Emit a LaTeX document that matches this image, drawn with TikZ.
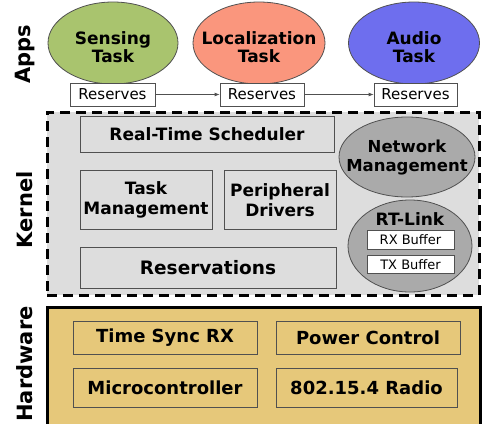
\documentclass[tikz,border=0pt]{standalone}
\usepackage{fontspec}
\setmainfont{DejaVu Sans}
\usetikzlibrary{shapes.geometric,arrows.meta}
\definecolor{sensecol}{RGB}{169,196,110}
\definecolor{loccol}{RGB}{250,150,125}
\definecolor{audiocol}{RGB}{110,110,238}
\definecolor{kernbg}{RGB}{221,221,221}
\definecolor{netcol}{RGB}{170,170,170}
\definecolor{hwcol}{RGB}{230,200,122}
\definecolor{edgegray}{RGB}{80,80,80}
\tikzset{
  apptask/.style={ellipse, draw=edgegray, line width=0.8pt, minimum width=130pt, minimum height=82pt, inner sep=0pt},
  apptext/.style={inner sep=0pt, align=center, font=\fontsize{17}{18.5}\selectfont\bfseries},
  resbox/.style={draw=edgegray, line width=0.8pt, fill=white, minimum width=85pt, minimum height=23pt, inner sep=0pt, font=\fontsize{15}{17}\selectfont},
  kbox/.style={draw=edgegray, line width=0.8pt, fill=kernbg, inner sep=0pt, align=center, font=\fontsize{17}{20}\selectfont\bfseries},
  kell/.style={ellipse, draw=edgegray, line width=0.8pt, fill=netcol, inner sep=0pt},
  kelltext/.style={inner sep=0pt, align=center, font=\fontsize{16.5}{19}\selectfont\bfseries},
  bufbox/.style={draw=edgegray, line width=0.8pt, fill=white, minimum width=87pt, minimum height=18.5pt, inner sep=0pt, font=\fontsize{13}{15}\selectfont},
  hwbox/.style={draw=edgegray, line width=0.8pt, fill=hwcol, inner sep=0pt, font=\fontsize{18}{20}\selectfont\bfseries},
  layerlabel/.style={rotate=90, inner sep=0pt, font=\fontsize{21}{24}\selectfont\bfseries},
  resarrow/.style={-{Latex[length=5pt,width=4pt]}, draw=edgegray, line width=0.8pt}
}
\begin{document}
\begin{tikzpicture}[x=1pt,y=-1pt]
\useasboundingbox (0,0) rectangle (484,423);
% layer labels
\node[layerlabel] (lapps) at (25,54) {Apps};
\node[layerlabel] (lkern) at (25,210) {Kernel};
\node[layerlabel] (lhw) at (25,364) {Hardware};
% apps
\node[apptask, fill=sensecol] (sense) at (113,43) {};
\node[apptext] (senset) at ([yshift=-4pt]sense.center) {Sensing\\Task};
\node[apptask, fill=loccol, minimum width=132pt] (loc) at (259,43) {};
\node[apptext] (loct) at ([yshift=-4pt]loc.center) {Localization\\Task};
\node[apptask, fill=audiocol, minimum width=131pt] (audio) at (414,43) {};
\node[apptext] (audiot) at ([yshift=-4pt]audio.center) {Audio\\Task};
\node[resbox] (r1) at (112.5,94.5) {Reserves};
\node[resbox, minimum width=84pt] (r2) at (262,94.5) {Reserves};
\node[resbox, minimum width=83pt] (r3) at (415.5,94.5) {Reserves};
\draw[resarrow] (r1) -- (r2);
\draw[resarrow] (r2) -- (r3);
% kernel
\node[draw=black, fill=kernbg, line width=3pt, dash pattern=on 10pt off 6pt, minimum width=432pt, minimum height=183pt, inner sep=0pt] (kern) at (263,203.5) {};
\node[kbox, minimum width=254pt, minimum height=36pt] (sched) at (207,134) {Real-Time Scheduler};
\node[kbox, minimum width=132pt, minimum height=59pt] (taskm) at (146,199.5) {Task\\Management};
\node[kbox, minimum width=112pt, minimum height=59pt] (periph) at (280,200) {Peripheral\\Drivers};
\node[kbox, minimum width=256pt, minimum height=41pt, font=\fontsize{18.5}{20}\selectfont\bfseries] (resv) at (208,267.5) {Reservations};
\node[kell, minimum width=136pt, minimum height=80pt] (netm) at (407,157) {};
\node[kelltext] (netmt) at ([yshift=-1pt]netm.center) {Network\\Management};
\node[kell, minimum width=124pt, minimum height=92pt] (rtl) at (410,246) {};
\node[inner sep=0pt, font=\fontsize{17}{20}\selectfont\bfseries] (rtlt) at (410,219) {RT-Link};
\node[bufbox] (rx) at (410.5,240) {RX Buffer};
\node[bufbox] (tx) at (410.5,264.5) {TX Buffer};
% hardware
\draw[line width=3pt, fill=hwcol] (47,307) rectangle (480,430);
\node[hwbox, minimum width=184pt, minimum height=33pt] (tsync) at (165,337.5) {Time Sync RX};
\node[hwbox, minimum width=184pt, minimum height=33pt] (power) at (368,337.5) {Power Control};
\node[hwbox, minimum width=184pt, minimum height=39pt] (micro) at (165,387.5) {Microcontroller};
\node[hwbox, minimum width=181pt, minimum height=39pt] (radio) at (366.5,387.5) {802.15.4 Radio};
\end{tikzpicture}
\end{document}
